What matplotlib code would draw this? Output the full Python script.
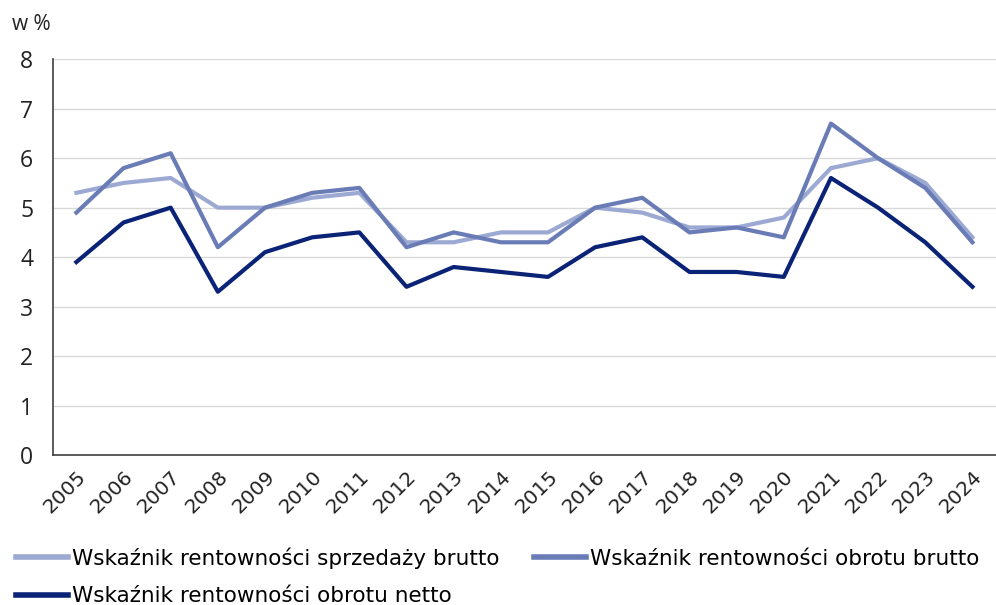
import matplotlib
matplotlib.use('Agg')
import matplotlib.pyplot as plt
from matplotlib import font_manager

years = [str(y) for y in range(2005, 2025)]
sprzedazy_brutto = [5.3, 5.5, 5.6, 5.0, 5.0, 5.2, 5.3, 4.3, 4.3, 4.5,
                    4.5, 5.0, 4.9, 4.6, 4.6, 4.8, 5.8, 6.0, 5.5, 4.4]
obrotu_brutto = [4.9, 5.8, 6.1, 4.2, 5.0, 5.3, 5.4, 4.2, 4.5, 4.3,
                 4.3, 5.0, 5.2, 4.5, 4.6, 4.4, 6.7, 6.0, 5.4, 4.3]
obrotu_netto = [3.9, 4.7, 5.0, 3.3, 4.1, 4.4, 4.5, 3.4, 3.8, 3.7,
                3.6, 4.2, 4.4, 3.7, 3.7, 3.6, 5.6, 5.0, 4.3, 3.4]
labels = ['Wskaźnik rentowności sprzedaży brutto',
          'Wskaźnik rentowności obrotu brutto',
          'Wskaźnik rentowności obrotu netto']

LIGHT = '#9CA9D2'
MID = '#6A7CB6'
DARK = '#0A2376'

names = {f.name for f in font_manager.fontManager.ttflist}
narrow = 'Liberation Sans Narrow' if 'Liberation Sans Narrow' in names else 'DejaVu Sans'
plt.rcParams['font.family'] = ['Open Sans', 'DejaVu Sans']

fig = plt.figure(figsize=(9.96, 6.05), dpi=100)
ax = fig.add_axes([0.053, 0.248, 0.947, 0.654])

x = range(len(years))
l1, = ax.plot(x, sprzedazy_brutto, color=LIGHT, lw=3, label=labels[0])
l2, = ax.plot(x, obrotu_brutto, color=MID, lw=3, label=labels[1])
l3, = ax.plot(x, obrotu_netto, color=DARK, lw=3, label=labels[2])

ax.set_xlim(-0.5, len(years) - 0.5)
ax.set_ylim(0, 8)
ax.set_yticks(range(0, 9))
ax.grid(axis='y', color='#D9D9D9', lw=1)
ax.set_axisbelow(True)
for s in ['top', 'right']:
    ax.spines[s].set_visible(False)
for s in ['left', 'bottom']:
    ax.spines[s].set_color('#404040')
    ax.spines[s].set_linewidth(1.2)
ax.tick_params(length=0, colors='#222222')
ax.tick_params(axis='y', pad=14, labelsize=16.5)
ax.set_xticks(list(x))
ax.set_xticklabels(years, rotation=45, ha='right', rotation_mode='anchor',
                   family=narrow, fontsize=14.5)
ax.tick_params(axis='x', pad=9)

fig.text(0.012, 0.95, 'w %', fontsize=15, color='#222222')

leg = fig.legend([l1, l3, l2], [labels[0], labels[2], labels[1]],
                 loc='lower left', bbox_to_anchor=(-0.003, -0.034), ncol=2,
                 frameon=False, prop={'family': narrow, 'size': 15.5},
                 handlelength=2.4, handletextpad=0.2, columnspacing=1.6,
                 labelspacing=0.8)
for h in leg.legend_handles:
    h.set_linewidth(4)

fig.savefig('out.png', dpi=100)
